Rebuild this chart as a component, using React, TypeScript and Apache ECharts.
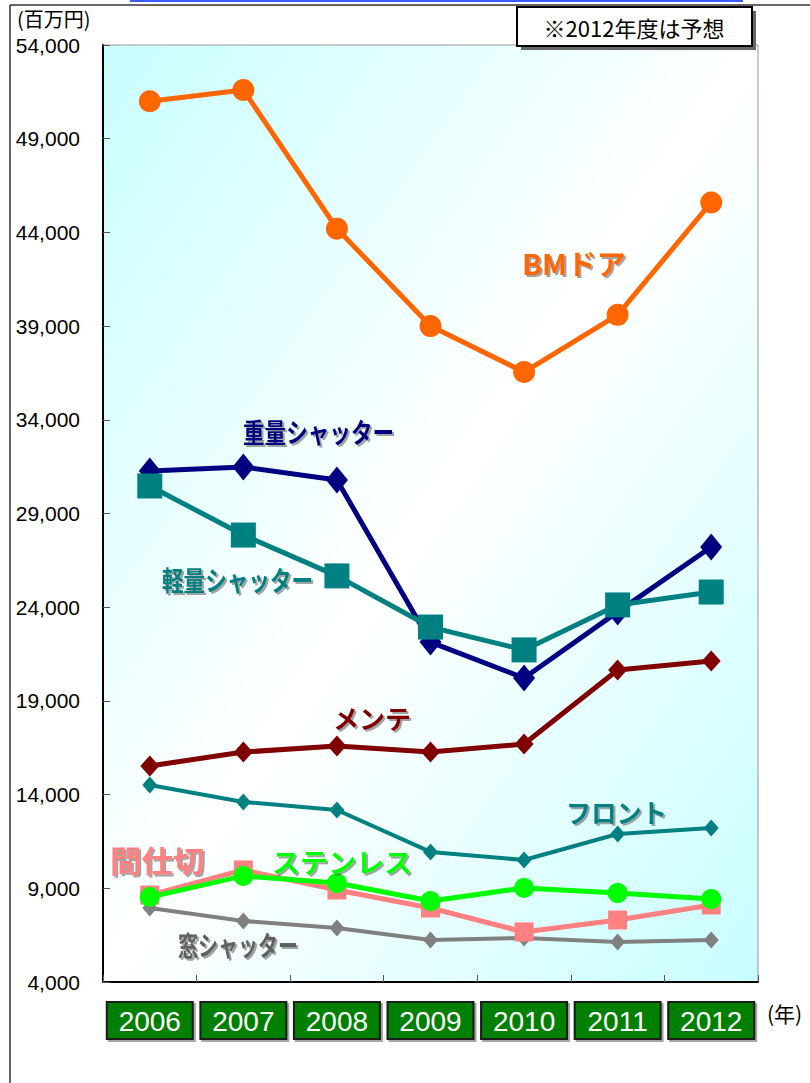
import React, { useEffect, useRef } from "react";
import * as echarts from "echarts";

const years = ["2006", "2007", "2008", "2009", "2010", "2011", "2012"];
const bmDoor = [51000, 51600, 44200, 39000, 36550, 39600, 45600];
const heavyShutter = [31270, 31480, 30790, 22140, 20220, 23750, 27210];
const lightShutter = [30470, 27850, 25670, 22940, 21720, 24120, 24810];
const maintenance = [15530, 16270, 16590, 16270, 16700, 20650, 21130];
const front = [14510, 13610, 13180, 10940, 10510, 11900, 12220];
const windowShutter = [7950, 7260, 6880, 6240, 6350, 6140, 6240];
const partition = [8640, 9980, 8910, 7950, 6670, 7310, 8110];
const stainless = [8530, 9660, 9280, 8320, 9020, 8750, 8430];

const yMin = 4000;
const yMax = 54000;
const yStep = 5000;

const JP = '"Noto Sans CJK JP", "Noto Sans", sans-serif';
const SANS = '"Liberation Sans", Arial, sans-serif';

function seriesLabel(text: string, x: number, y: number, color: string, fontSize: number, scaleX = 1) {
  return {
    type: "text",
    x,
    y,
    scaleX,
    z: 100,
    style: {
      text,
      fill: color,
      fontSize,
      fontWeight: "bold",
      fontFamily: JP,
      verticalAlign: "middle",
      align: "left",
      textShadowColor: "rgba(90,90,90,0.55)",
      textShadowOffsetX: 2,
      textShadowOffsetY: 2,
      textShadowBlur: 1,
    },
  };
}

export default function App() {
  const ref = useRef<HTMLDivElement>(null);
  useEffect(() => {
    if (!ref.current) return;
    const chart = echarts.init(ref.current, null, { renderer: "svg" });
    const line = (name: string, data: number[], color: string, symbol: string, size: any, width: number) => ({
      name,
      type: "line",
      data,
      symbol,
      symbolSize: size,
      itemStyle: { color },
      lineStyle: { color, width },
      emphasis: { disabled: true },
    });
    chart.setOption({
      animation: false,
      backgroundColor: "#ffffff",
      grid: {
        left: 103,
        right: 52,
        top: 45,
        bottom: 101,
        show: true,
        borderColor: "#999999",
        borderWidth: 1,
        backgroundColor: {
          type: "linear",
          x: 0,
          y: 0,
          x2: 1,
          y2: 1,
          colorStops: [
            { offset: 0, color: "#c8feff" },
            { offset: 0.5, color: "#ffffff" },
            { offset: 1, color: "#c8feff" },
          ],
        },
      },
      xAxis: {
        type: "category",
        data: years,
        boundaryGap: true,
        axisLine: { lineStyle: { color: "#000", width: 2 } },
        axisTick: { show: true, inside: true, length: 7, lineStyle: { color: "#555", width: 1 } },
        axisLabel: {
          margin: 21,
          color: "#ffffff",
          fontFamily: SANS,
          fontSize: 28,
          lineHeight: 34,
          width: 66,
          align: "center",
          backgroundColor: "#007f00",
          borderColor: "#1a1a1a",
          borderWidth: 2,
          padding: [1, 9, 0, 9],
          shadowColor: "rgba(0,0,0,0.35)",
          shadowOffsetX: 2,
          shadowOffsetY: 2,
        },
      },
      yAxis: {
        type: "value",
        min: yMin,
        max: yMax,
        interval: yStep,
        splitLine: { show: false },
        axisLine: { show: true, lineStyle: { color: "#000", width: 2 } },
        axisTick: { show: true, inside: true, length: 7, lineStyle: { color: "#555", width: 1 } },
        axisLabel: {
          margin: 23,
          color: "#000",
          fontFamily: SANS,
          fontSize: 21,
          formatter: (v: number) => v.toLocaleString("en-US"),
        },
      },
      series: [
        line("BMドア", bmDoor, "#ff6600", "circle", 22, 5),
        line("重量シャッター", heavyShutter, "#000080", "diamond", [22, 27], 5),
        line("軽量シャッター", lightShutter, "#008080", "rect", [25, 25], 5),
        line("メンテ", maintenance, "#800000", "diamond", [19, 21], 5),
        line("フロント", front, "#008080", "diamond", [15, 17], 4),
        line("窓シャッター", windowShutter, "#808080", "diamond", [15, 17], 4),
        line("間仕切", partition, "#ff8080", "rect", [19, 19], 5),
        line("ステンレス", stainless, "#00ff00", "circle", 20, 5),
      ],
      graphic: [
        { type: "line", shape: { x1: 130, y1: 1, x2: 743, y2: 1 }, style: { stroke: "#3a5cff", lineWidth: 2 } },
        { type: "line", shape: { x1: 10, y1: 5, x2: 810, y2: 5 }, style: { stroke: "#333", lineWidth: 1.5 } },
        { type: "line", shape: { x1: 10, y1: 5, x2: 10, y2: 1083 }, style: { stroke: "#333", lineWidth: 1.5 } },
        { type: "rect", shape: { x: 521, y: 11, width: 235, height: 39 }, style: { fill: "#666" } },
        { type: "rect", shape: { x: 517, y: 7, width: 235, height: 39 }, style: { fill: "#fff", stroke: "#000", lineWidth: 2 } },
        {
          type: "text",
          x: 634,
          y: 27,
          style: { text: "※2012年度は予想", fill: "#000", fontSize: 22, fontFamily: JP, align: "center", verticalAlign: "middle" },
        },
        {
          type: "text",
          x: 17,
          y: 18,
          style: { text: "(百万円)", fill: "#000", fontSize: 20, fontFamily: JP, align: "left", verticalAlign: "middle" },
        },
        {
          type: "text",
          x: 767,
          y: 1013,
          style: { text: "(年)", fill: "#000", fontSize: 21, fontFamily: JP, align: "left", verticalAlign: "middle" },
        },
        seriesLabel("BMドア", 522, 263, "#ff6600", 28, 1.05),
        seriesLabel("重量シャッター", 243, 431, "#000080", 27, 0.8),
        seriesLabel("軽量シャッター", 162, 579, "#008080", 27, 0.8),
        seriesLabel("メンテ", 333, 717, "#800000", 26, 1),
        seriesLabel("フロント", 566, 811, "#008080", 26, 0.97),
        seriesLabel("間仕切", 110, 859, "#ff8080", 30, 1.05),
        seriesLabel("ステンレス", 272, 861, "#00ff00", 27, 1.04),
        seriesLabel("窓シャッター", 178, 944, "#606060", 27, 0.74),
      ],
    });
    return () => chart.dispose();
  }, []);
  return <div ref={ref} style={{ position: "absolute", left: 0, top: 0, width: 810, height: 1083 }} />;
}
